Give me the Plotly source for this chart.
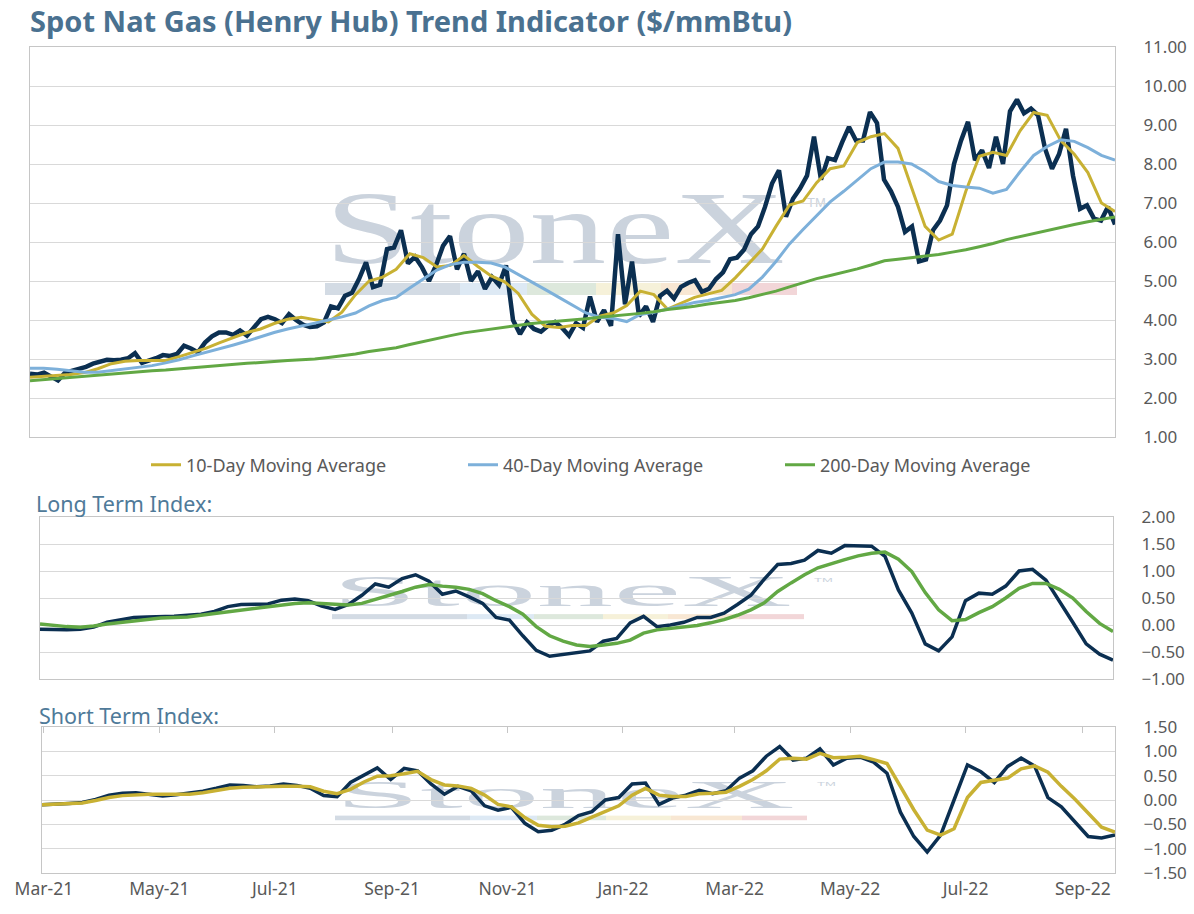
import base64
import pandas as pd
import plotly.graph_objects as go

# date span of every series (values are evenly spaced over it)
START, END = "2021-02-28", "2022-09-18"

spot = [2.62, 2.60, 2.65, 2.55, 2.45, 2.65, 2.70, 2.74, 2.80, 2.88,
        2.92, 2.98, 2.97, 2.98, 3.02, 3.15, 2.90, 2.95, 3.02, 3.10,
        3.08, 3.13, 3.34, 3.27, 3.17, 3.42, 3.58, 3.68, 3.68, 3.62,
        3.73, 3.60, 3.82, 4.02, 4.08, 4.02, 3.92, 4.15, 4.00, 3.88,
        3.82, 3.84, 3.94, 4.35, 4.30, 4.62, 4.70, 5.05, 5.48, 4.84,
        4.90, 5.82, 5.86, 6.30, 5.45, 5.62, 5.35, 5.00, 5.40, 5.90,
        6.15, 5.30, 5.70, 5.00, 5.25, 4.80, 5.10, 4.90, 5.40, 4.00,
        3.64, 3.94, 3.77, 3.70, 3.85, 3.95, 3.80, 3.60, 3.92, 3.80,
        4.60, 3.95, 4.25, 3.85, 6.20, 4.40, 5.50, 4.10, 4.35, 3.95,
        4.62, 4.75, 4.55, 4.85, 4.95, 5.02, 4.72, 4.80, 5.05, 5.22,
        5.56, 5.60, 5.80, 6.20, 6.40, 6.90, 7.50, 7.84, 6.65, 7.11,
        7.37, 7.70, 8.70, 7.60, 8.15, 8.10, 8.55, 8.95, 8.60, 8.60,
        9.33, 9.05, 7.60, 7.30, 6.90, 6.26, 6.40, 5.50, 5.55, 6.30,
        6.55, 6.94, 8.00, 8.60, 9.08, 8.10, 8.35, 7.90, 8.70, 8.00,
        9.35, 9.65, 9.30, 9.42, 9.25, 8.40, 7.88, 8.25, 8.90, 7.70,
        6.85, 6.94, 6.60, 6.55, 6.90, 6.45]

ma10 = [2.53, 2.55, 2.57, 2.60, 2.65, 2.75, 2.88, 2.94, 2.96, 2.96,
        2.96, 3.06, 3.17, 3.28, 3.42, 3.56, 3.68, 3.77, 3.91, 4.02,
        4.07, 4.01, 3.95, 4.20, 4.65, 5.00, 5.10, 5.30, 5.70, 5.60,
        5.36, 5.40, 5.65, 5.38, 5.13, 4.98, 4.68, 4.15, 3.84, 3.81,
        3.86, 3.86, 4.10, 4.18, 4.37, 4.74, 4.65, 4.28, 4.42, 4.58,
        4.67, 4.76, 5.08, 5.45, 5.82, 6.40, 6.95, 7.05, 7.52, 7.88,
        7.95, 8.55, 8.70, 8.78, 8.40, 7.40, 6.40, 6.05, 6.20, 7.30,
        8.20, 8.30, 8.22, 8.85, 9.32, 9.25, 8.60, 8.25, 7.78, 7.00,
        6.78]

ma40 = [2.76, 2.76, 2.74, 2.70, 2.66, 2.66, 2.70, 2.74, 2.78, 2.83,
        2.90, 2.98, 3.08, 3.17, 3.26, 3.36, 3.46, 3.58, 3.68, 3.77,
        3.84, 3.92, 4.00, 4.08, 4.18, 4.36, 4.50, 4.58, 4.82, 5.05,
        5.28, 5.42, 5.48, 5.48, 5.46, 5.36, 5.17, 4.99, 4.78, 4.58,
        4.38, 4.18, 4.07, 4.04, 3.96, 4.14, 4.20, 4.28, 4.37, 4.45,
        4.50, 4.58, 4.65, 4.79, 5.10, 5.50, 5.95, 6.32, 6.68, 7.03,
        7.30, 7.60, 7.88, 8.05, 8.05, 8.00, 7.80, 7.55, 7.45, 7.41,
        7.38, 7.25, 7.35, 7.80, 8.22, 8.45, 8.62, 8.58, 8.42, 8.22,
        8.10]

ma200 = [2.44, 2.47, 2.50, 2.53, 2.56, 2.59, 2.61, 2.64, 2.67, 2.70,
         2.72, 2.75, 2.78, 2.80, 2.83, 2.86, 2.89, 2.91, 2.94, 2.96,
         2.98, 3.00, 3.04, 3.08, 3.13, 3.19, 3.24, 3.29, 3.37, 3.45,
         3.53, 3.60, 3.67, 3.72, 3.77, 3.82, 3.87, 3.91, 3.94, 3.97,
         3.99, 4.03, 4.07, 4.10, 4.14, 4.17, 4.21, 4.27, 4.31, 4.35,
         4.41, 4.46, 4.50, 4.57, 4.65, 4.74, 4.85, 4.96, 5.06, 5.14,
         5.22, 5.31, 5.41, 5.52, 5.56, 5.60, 5.64, 5.68, 5.74, 5.80,
         5.88, 5.96, 6.06, 6.14, 6.22, 6.30, 6.37, 6.45, 6.52, 6.58,
         6.64]

long_idx = [-0.08, -0.09, -0.09, -0.08, -0.04, 0.05, 0.10, 0.14, 0.15, 0.15,
            0.16, 0.18, 0.20, 0.25, 0.34, 0.38, 0.38, 0.39, 0.46, 0.48,
            0.45, 0.35, 0.29, 0.38, 0.55, 0.76, 0.70, 0.86, 0.93, 0.81,
            0.57, 0.63, 0.52, 0.40, 0.14, 0.09, -0.20, -0.47, -0.58, -0.55,
            -0.52, -0.48, -0.30, -0.25, 0.04, 0.16, -0.03, 0.00, 0.05, 0.14,
            0.14, 0.22, 0.38, 0.55, 0.85, 1.12, 1.14, 1.20, 1.38, 1.33,
            1.47, 1.47, 1.46, 1.27, 0.65, 0.22, -0.35, -0.48, -0.22, 0.45,
            0.59, 0.57, 0.72, 1.00, 1.03, 0.83, 0.45, 0.05, -0.35, -0.54,
            -0.65]

long_sig = [0.02, -0.01, -0.03, -0.04, -0.02, 0.02, 0.05, 0.08, 0.11, 0.13,
            0.14, 0.15, 0.18, 0.21, 0.25, 0.28, 0.31, 0.34, 0.37, 0.40,
            0.41, 0.40, 0.38, 0.37, 0.40, 0.47, 0.55, 0.62, 0.70, 0.75,
            0.72, 0.70, 0.66, 0.58, 0.45, 0.34, 0.20, -0.03, -0.20, -0.30,
            -0.37, -0.40, -0.37, -0.34, -0.28, -0.15, -0.09, -0.06, -0.04, -0.01,
            0.04, 0.10, 0.18, 0.28, 0.41, 0.62, 0.78, 0.93, 1.06, 1.14,
            1.21, 1.28, 1.33, 1.35, 1.22, 0.99, 0.60, 0.28, 0.08, 0.10,
            0.23, 0.34, 0.50, 0.68, 0.77, 0.77, 0.66, 0.50, 0.25, 0.03,
            -0.12]

short_idx = [-0.10, -0.09, -0.07, -0.05, 0.01, 0.10, 0.14, 0.15, 0.11, 0.08,
             0.11, 0.14, 0.18, 0.24, 0.31, 0.30, 0.27, 0.29, 0.33, 0.30,
             0.24, 0.09, 0.07, 0.36, 0.50, 0.66, 0.42, 0.65, 0.60, 0.33,
             0.12, 0.28, 0.19, -0.12, -0.21, -0.15, -0.48, -0.65, -0.62, -0.50,
             -0.32, -0.24, 0.00, 0.05, 0.33, 0.35, -0.09, 0.04, 0.10, 0.20,
             0.13, 0.19, 0.45, 0.60, 0.90, 1.10, 0.82, 0.86, 1.05, 0.72,
             0.86, 0.88, 0.78, 0.55, -0.25, -0.75, -1.07, -0.72, 0.00, 0.72,
             0.58, 0.36, 0.69, 0.86, 0.70, 0.05, -0.14, -0.45, -0.75, -0.78,
             -0.72]

short_sig = [-0.10, -0.09, -0.08, -0.06, -0.01, 0.05, 0.09, 0.11, 0.12, 0.12,
             0.12, 0.12, 0.15, 0.20, 0.24, 0.26, 0.27, 0.28, 0.28, 0.28,
             0.27, 0.18, 0.13, 0.22, 0.37, 0.49, 0.50, 0.54, 0.59, 0.42,
             0.31, 0.29, 0.24, 0.10, -0.09, -0.14, -0.36, -0.52, -0.55, -0.54,
             -0.47, -0.35, -0.24, -0.12, 0.10, 0.24, 0.10, 0.07, 0.07, 0.13,
             0.14, 0.16, 0.28, 0.42, 0.60, 0.84, 0.86, 0.84, 0.96, 0.87,
             0.88, 0.90, 0.83, 0.75, 0.28, -0.20, -0.62, -0.72, -0.59, 0.05,
             0.36, 0.41, 0.45, 0.64, 0.70, 0.57, 0.28, 0.02, -0.28, -0.56,
             -0.66]

NAVY = "#0B2F51"
GOLD = "#C8B133"
LBLUE = "#7DB0DA"
GREEN = "#62A844"
GREY = "#595959"
W, H = 1194, 914
FONT = "Noto Sans"


def dates(values):
    return pd.date_range(START, END, periods=len(values))


def px(x0, x1):
    return [x0 / W, x1 / W]


def py(y_top, y_bot):
    return [1 - y_bot / H, 1 - y_top / H]


def watermark():
    segs = [(0, 135, "#d3dbe4"), (135, 202, "#dde9f4"), (202, 271, "#dde8dc"),
            (271, 336, "#f6f1d9"), (336, 407, "#f8e7d3"), (407, 472, "#f2d6d8")]
    rects = "".join('<rect x="%d" y="98" width="%d" height="12" fill="%s"/>' % (a, b - a, c)
                    for a, b, c in segs)
    svg = ('<svg xmlns="http://www.w3.org/2000/svg" width="505" height="112" '
           'viewBox="0 0 505 112" preserveAspectRatio="none">'
           '<text x="0" y="78" font-family="Liberation Serif, DejaVu Serif, serif" '
           'font-size="103" textLength="460" lengthAdjust="spacingAndGlyphs" '
           'fill="#cbd3dd">StoneX</text>'
           '<text x="482" y="22" font-family="Liberation Sans, sans-serif" '
           'font-size="13" fill="#cbd3dd">TM</text>' + rects + '</svg>')
    return "data:image/svg+xml;base64," + base64.b64encode(svg.encode()).decode()


fig = go.Figure()

# top panel
fig.add_trace(go.Scatter(x=dates(spot), y=spot, mode="lines", name="Spot",
                         line=dict(color=NAVY, width=4.5), showlegend=False))
fig.add_trace(go.Scatter(x=dates(ma10), y=ma10, mode="lines", name="10-Day Moving Average",
                         line=dict(color=GOLD, width=3)))
fig.add_trace(go.Scatter(x=dates(ma40), y=ma40, mode="lines", name="40-Day Moving Average",
                         line=dict(color=LBLUE, width=3)))
fig.add_trace(go.Scatter(x=dates(ma200), y=ma200, mode="lines", name="200-Day Moving Average",
                         line=dict(color=GREEN, width=3)))

# long term index
fig.add_trace(go.Scatter(x=dates(long_idx), y=long_idx, mode="lines", xaxis="x2", yaxis="y2",
                         line=dict(color=NAVY, width=3.5), showlegend=False))
fig.add_trace(go.Scatter(x=dates(long_sig), y=long_sig, mode="lines", xaxis="x2", yaxis="y2",
                         line=dict(color=GREEN, width=3.5), showlegend=False))

# short term index
fig.add_trace(go.Scatter(x=dates(short_idx), y=short_idx, mode="lines", xaxis="x3", yaxis="y3",
                         line=dict(color=NAVY, width=3.5), showlegend=False))
fig.add_trace(go.Scatter(x=dates(short_sig), y=short_sig, mode="lines", xaxis="x3", yaxis="y3",
                         line=dict(color=GOLD, width=3.5), showlegend=False))
# carries the tick marks along the top edge of the bottom panel
fig.add_trace(go.Scatter(x=dates(short_sig)[:1], y=[None], mode="lines", xaxis="x4", yaxis="y3",
                         showlegend=False, hoverinfo="skip"))

box = dict(showline=True, mirror=True, linecolor="#c6c6c6", linewidth=1, zeroline=False,
           automargin=False)
xbase = dict(box, type="date", range=[START, END], showgrid=False, ticks="",
             showticklabels=False)
ybase = dict(box, side="right", showgrid=True, gridcolor="#d9d9d9", gridwidth=1,
             tickformat=".2f", ticks="", ticklabelstandoff=24,
             tickfont=dict(family=FONT, size=17, color=GREY))

fig.update_layout(
    width=W, height=H,
    margin=dict(l=0, r=0, t=0, b=0, autoexpand=False),
    paper_bgcolor="white", plot_bgcolor="rgba(0,0,0,0)",
    font=dict(family=FONT, color=GREY),
    title=dict(text="Spot Nat Gas (Henry Hub) Trend Indicator ($/mmBtu)",
               x=30 / W, xanchor="left", y=1 - 22 / H, yanchor="middle",
               font=dict(family=FONT, size=29, weight=700, color="#4A7190")),
    xaxis=dict(xbase, domain=px(30, 1115), anchor="y"),
    yaxis=dict(ybase, domain=py(47, 437), anchor="x", range=[1, 11], dtick=1),
    xaxis2=dict(xbase, domain=px(40, 1113), anchor="y2"),
    yaxis2=dict(ybase, domain=py(517, 679), anchor="x2", range=[-1, 2], dtick=0.5),
    xaxis3=dict(xbase, domain=px(42, 1115), anchor="y3", showticklabels=True,
                tickformat="%b-%y", dtick="M2", tick0="2021-03-01",
                tickfont=dict(family=FONT, size=17.5, color=GREY)),
    xaxis4=dict(type="date", range=[START, END], overlaying="x3", anchor="y3", side="top",
                showgrid=False, zeroline=False, showline=False, showticklabels=False,
                ticks="inside", ticklen=6, tickcolor="#c6c6c6", automargin=False,
                dtick="M2", tick0="2021-03-01"),
    yaxis3=dict(ybase, domain=py(727, 873), anchor="x3", range=[-1.5, 1.5], dtick=0.5),
    legend=dict(orientation="h", x=146 / W, xanchor="left", y=1 - 465 / H, yanchor="middle",
                entrywidth=272, entrywidthmode="pixels", itemwidth=30,
                font=dict(family=FONT, size=18, color=GREY), bgcolor="rgba(0,0,0,0)"),
    annotations=[
        dict(text="Long Term Index:", x=34 / W, y=1 - 503 / H, xref="paper", yref="paper",
             xanchor="left", yanchor="middle", showarrow=False,
             font=dict(family=FONT, size=21.5, color="#4F7A99")),
        dict(text="Short Term Index:", x=37 / W, y=1 - 715 / H, xref="paper", yref="paper",
             xanchor="left", yanchor="middle", showarrow=False,
             font=dict(family=FONT, size=21.5, color="#4F7A99")),
    ],
)

mark = watermark()
for x0, y0, h in [(325, 185, 112), (332, 573, 47), (335, 778, 43)]:
    fig.add_layout_image(dict(source=mark, xref="paper", yref="paper",
                              x=x0 / W, y=1 - y0 / H, sizex=505 / W, sizey=h / H,
                              xanchor="left", yanchor="top", sizing="stretch",
                              layer="below"))

fig.write_html("out.html", config={"displayModeBar": False},
               post_script="document.body.style.margin='0';")
